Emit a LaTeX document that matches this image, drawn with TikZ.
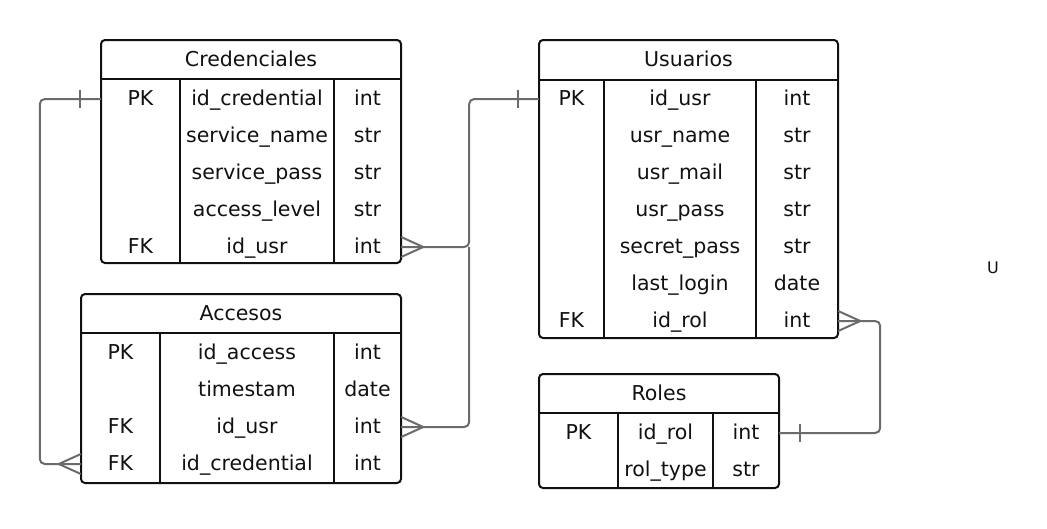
\documentclass[tikz,border=0pt]{standalone}
\usepackage{fontspec}
\setmainfont{DejaVu Sans}
\usetikzlibrary{calc}
\definecolor{ink}{HTML}{111111}
\definecolor{link}{HTML}{6B6B6B}
\tikzset{
  every node/.style={font=\fontsize{20.5}{24}\selectfont,text=ink},
  table/.style={draw=ink,line width=2pt,rounded corners=4pt,inner sep=0pt},
  rule/.style={draw=ink,line width=2pt},
  row/.style={inner sep=0pt,minimum height=37pt},
  cell/.style={inner sep=0pt,text height=16pt,text depth=4pt},
  rel/.style={draw=link,line width=2pt,rounded corners=5pt},
  tick/.style={draw=link,line width=2pt},
}
\begin{document}
\begin{tikzpicture}[x=1pt,y=-1pt]
\useasboundingbox (0,0) rectangle (1047,528);

% Credenciales
\node[table,minimum width=300pt,minimum height=223pt] (cred) at (251,151.5) {};
\node[cell] (cred-head) at (251,60) {Credenciales};
\draw[rule] (101,79) -- (401,79);
\draw[rule] (180,79) -- (180,263);
\draw[rule] (334,79) -- (334,263);
\foreach \k/\f/\t [count=\i] in {PK/id\_credential/int,/service\_name/str,/service\_pass/str,/access\_level/str,FK/id\_usr/int}{
  \node[row,minimum width=300pt] (cred-r\i) at (251,{62+37*\i}) {};
  \node[cell] at (140.5,{62+37*\i}) {\k};
  \node[cell] at (257,{62+37*\i}) {\f};
  \node[cell] at (367.5,{62+37*\i}) {\t};
}

% Accesos
\node[table,minimum width=320pt,minimum height=189pt] (acc) at (241,388.5) {};
\node[cell] (acc-head) at (241,314) {Accesos};
\draw[rule] (81,333) -- (401,333);
\draw[rule] (160,333) -- (160,483);
\draw[rule] (334,333) -- (334,483);
\foreach \k/\f/\t [count=\i] in {PK/id\_access/int,/timestam/date,FK/id\_usr/int,FK/id\_credential/int}{
  \node[row,minimum width=320pt] (acc-r\i) at (241,{316+37*\i}) {};
  \node[cell] at (120.5,{316+37*\i}) {\k};
  \node[cell] at (247,{316+37*\i}) {\f};
  \node[cell] at (367.5,{316+37*\i}) {\t};
}

% Usuarios
\node[table,minimum width=299pt,minimum height=298pt] (usr) at (688.5,189) {};
\node[cell] (usr-head) at (688.5,60) {Usuarios};
\draw[rule] (539,80) -- (838,80);
\draw[rule] (604,80) -- (604,338);
\draw[rule] (756,80) -- (756,338);
\foreach \k/\f/\t [count=\i] in {PK/id\_usr/int,/usr\_name/str,/usr\_mail/str,/usr\_pass/str,/secret\_pass/str,/last\_login/date,FK/id\_rol/int}{
  \node[row,minimum width=299pt] (usr-r\i) at (688.5,{62+37*\i}) {};
  \node[cell] at (571.5,{62+37*\i}) {\k};
  \node[cell] at (680,{62+37*\i}) {\f};
  \node[cell] at (797,{62+37*\i}) {\t};
}

% Roles
\node[table,minimum width=240pt,minimum height=114pt] (rol) at (659,431) {};
\node[cell] (rol-head) at (659,394) {Roles};
\draw[rule] (539,413) -- (779,413);
\draw[rule] (618,413) -- (618,488);
\draw[rule] (713,413) -- (713,488);
\foreach \k/\f/\t [count=\i] in {PK/id\_rol/int,/rol\_type/str}{
  \node[row,minimum width=240pt] (rol-r\i) at (659,{396+37*\i}) {};
  \node[cell] at (578.5,{396+37*\i}) {\k};
  \node[cell] at (665.5,{396+37*\i}) {\f};
  \node[cell] at (746,{396+37*\i}) {\t};
}

\node[font=\fontsize{16}{18}\selectfont] (mark) at (993,268) {U};

% relations
\coordinate (join) at ($(cred-r5.east)+(68,0)$);
\draw[rel] (cred-r1.west) -- ++(-61,0) |- (acc-r4.west);
\draw[rel] (cred-r5.east) -- (join) |- (usr-r1.west);
\draw[rel] (acc-r3.east) -| (join);
\draw[rel] (usr-r7.east) -- ++(42,0) |- (rol-r1.east);

% one
\draw[tick] ($(cred-r1.west)+(-21,-9)$) -- ($(cred-r1.west)+(-21,9)$);
\draw[tick] ($(usr-r1.west)+(-21,-9)$) -- ($(usr-r1.west)+(-21,9)$);
\draw[tick] ($(rol-r1.east)+(21,-9)$) -- ($(rol-r1.east)+(21,9)$);

% many
\draw[tick] ($(cred-r5.east)+(0,-10)$) -- ($(cred-r5.east)+(22,0)$) -- ($(cred-r5.east)+(0,10)$);
\draw[tick] ($(acc-r3.east)+(0,-10)$) -- ($(acc-r3.east)+(22,0)$) -- ($(acc-r3.east)+(0,10)$);
\draw[tick] ($(usr-r7.east)+(0,-10)$) -- ($(usr-r7.east)+(22,0)$) -- ($(usr-r7.east)+(0,10)$);
\draw[tick] ($(acc-r4.west)+(0,-10)$) -- ($(acc-r4.west)+(-22,0)$) -- ($(acc-r4.west)+(0,10)$);

\end{tikzpicture}
\end{document}
